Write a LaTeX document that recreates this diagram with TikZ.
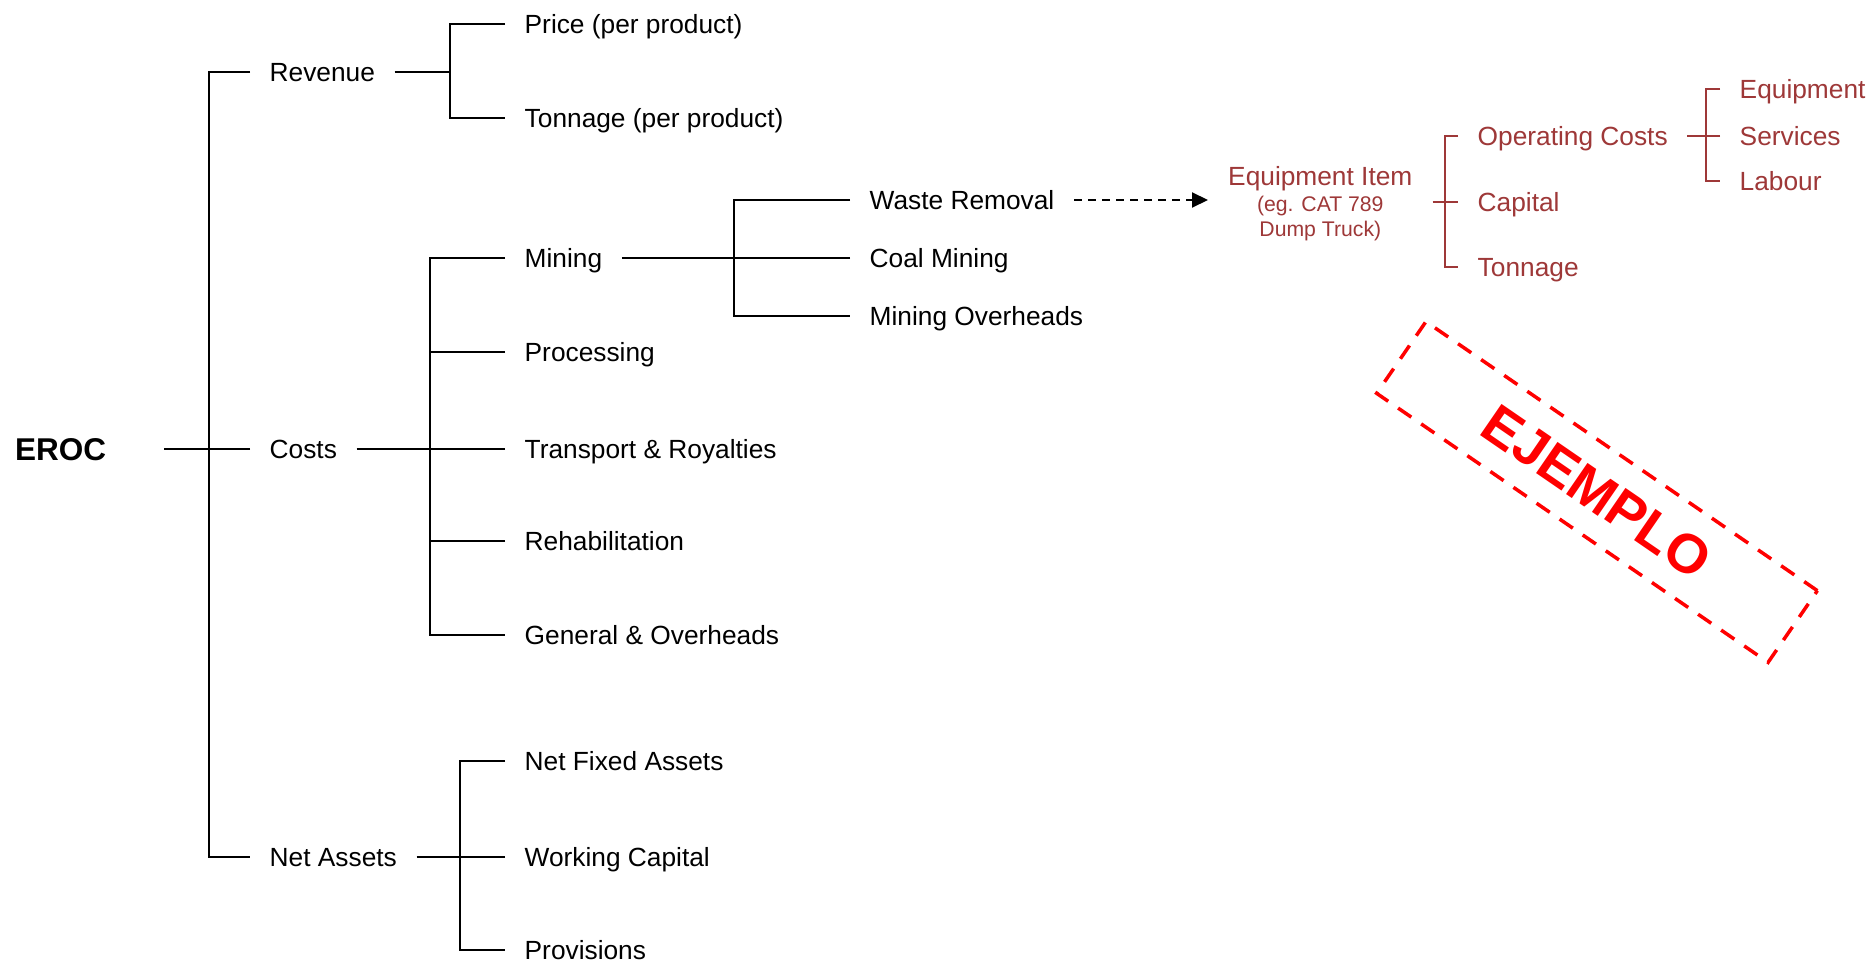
\documentclass[tikz,border=0pt]{standalone}
\usepackage{fontspec}
\setmainfont{Liberation Sans}
\usetikzlibrary{arrows.meta}
\definecolor{itemred}{RGB}{158,56,56}
\definecolor{stampred}{RGB}{255,0,0}

\begin{document}
\begin{tikzpicture}[x=1pt,y=-1pt,
  lbl/.style={anchor=west, inner xsep=19.5pt, inner ysep=0pt,
    text height=18.8pt, text depth=0pt, font=\fontsize{26.3}{31}\selectfont},
  redlbl/.style={lbl, text=itemred},
  eqnode/.style={anchor=west, align=center, inner xsep=20pt, inner ysep=0pt,
    text=itemred, font=\fontsize{21.2}{25.5}\selectfont},
  rootlbl/.style={anchor=west, inner sep=0pt, text height=22.5pt, text depth=0pt,
    font=\fontsize{31.5}{36}\selectfont\bfseries},
  stub/.style={line width=2.6pt},
  twig/.style={line width=1.8pt},
  redtwig/.style={line width=1.8pt, draw=itemred},
  stamp/.style={draw=stampred, text=stampred, line width=3.5pt,
    dash pattern=on 16pt off 12pt, rotate=-34.5,
    minimum width=475pt, minimum height=87pt, inner sep=0pt,
    font=\fontsize{55}{60}\selectfont\bfseries}
]
\fill[white] (0,0) rectangle (1871,960);
\useasboundingbox (0,0) rectangle (1871,960);

% bus positions
\coordinate (b0) at (209,0);
\coordinate (b1) at (450,0);
\coordinate (b2) at (430,0);
\coordinate (b3) at (734,0);
\coordinate (b4) at (460,0);
\coordinate (r1) at (1445,0);
\coordinate (r2) at (1706,0);

% root
\node[rootlbl] (eroc) at (15,449) {EROC};

% first level
\node[lbl] (rev)  at (250,72)  {Revenue};
\node[lbl] (cost) at (250,449) {Costs};
\node[lbl] (na)   at (250,857) {Net Assets};

% revenue
\node[lbl] (price) at (505,24)  {Price (per product)};
\node[lbl] (tonn)  at (505,118) {Tonnage (per product)};

% costs
\node[lbl] (mining) at (505,258) {Mining};
\node[lbl] (proc)   at (505,352) {Processing};
\node[lbl] (transp) at (505,449) {Transport \& Royalties};
\node[lbl] (rehab)  at (505,541) {Rehabilitation};
\node[lbl] (gen)    at (505,635) {General \& Overheads};

% net assets
\node[lbl] (nfa)  at (505,761) {Net Fixed Assets};
\node[lbl] (wc)   at (505,857) {Working Capital};
\node[lbl] (prov) at (505,950) {Provisions};

% mining
\node[lbl] (waste) at (850,200) {Waste Removal};
\node[lbl] (coal)  at (850,258) {Coal Mining};
\node[lbl] (mover) at (850,316) {Mining Overheads};

% equipment item
\node[eqnode] (equip) at (1208,204)
  {{\fontsize{26.3}{25.5}\selectfont Equipment Item}\\(eg. CAT 789\\Dump Truck)};
\node[redlbl] (opc)  at (1458,136) {Operating Costs};
\node[redlbl] (capc) at (1458,202) {Capital};
\node[redlbl] (tonc) at (1458,267) {Tonnage};
\node[redlbl] (eqp)  at (1720,89)  {Equipment};
\node[redlbl] (serv) at (1720,136) {Services};
\node[redlbl] (lab)  at (1720,181) {Labour};

% root connectors
\draw[stub] ([xshift=58pt]eroc.east) -- (eroc.east -| b0);
\draw[twig] (rev.west) -| (na.west -| b0) -- (na.west);
\draw[twig] (cost.west) -- (cost.west -| b0);

% revenue connectors
\draw[stub] (rev.east) -- (rev.east -| b1);
\draw[twig] (price.west) -| (tonn.west -| b1) -- (tonn.west);

% cost connectors
\draw[stub] (cost.east) -- (cost.east -| b2);
\draw[twig] (mining.west) -| (gen.west -| b2) -- (gen.west);
\draw[twig] (proc.west) -- (proc.west -| b2);
\draw[twig] (transp.west) -- (transp.west -| b2);
\draw[twig] (rehab.west) -- (rehab.west -| b2);

% net asset connectors
\draw[stub] (na.east) -- (na.east -| b4);
\draw[twig] (nfa.west) -| (prov.west -| b4) -- (prov.west);
\draw[twig] (wc.west) -- (wc.west -| b4);

% mining connectors
\draw[stub] (mining.east) -- (mining.east -| b3);
\draw[twig] (waste.west) -| (mover.west -| b3) -- (mover.west);
\draw[twig] (coal.west) -- (coal.west -| b3);

% link to equipment item
\draw[line width=2pt, dash pattern=on 8pt off 6pt,
  -{Triangle[length=16pt,width=15pt]}] (waste.east) -- (waste.east -| equip.west);

% equipment item connectors
\draw[redtwig] (capc.west -| equip.east) -- (capc.west -| r1);
\draw[redtwig] (opc.west) -| (tonc.west -| r1) -- (tonc.west);
\draw[redtwig] (capc.west -| r1) -- (capc.west);
\draw[redtwig] (opc.east) -- (opc.east -| r2);
\draw[redtwig] (eqp.west) -| (lab.west -| r2) -- (lab.west);
\draw[redtwig] (serv.west) -- (serv.west -| r2);

% stamp
\node[stamp] (stampbox) at (1597,492) {EJEMPLO};
\end{tikzpicture}
\end{document}
